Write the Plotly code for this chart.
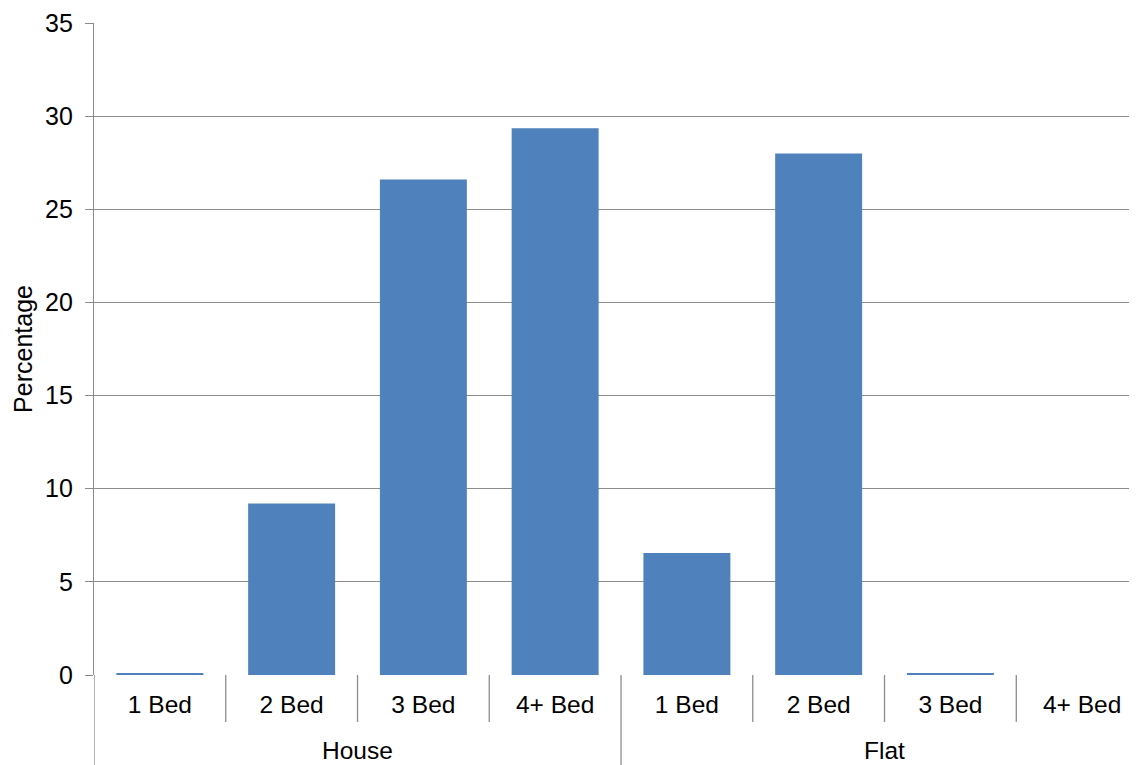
import plotly.graph_objects as go

groups = ["House", "House", "House", "House", "Flat", "Flat", "Flat", "Flat"]
beds = ["1 Bed", "2 Bed", "3 Bed", "4+ Bed", "1 Bed", "2 Bed", "3 Bed", "4+ Bed"]
percentages = [0.1, 9.2, 26.6, 29.35, 6.55, 28.0, 0.1, 0.0]
y_ticks = [0, 5, 10, 15, 20, 25, 30, 35]

FONT = "Liberation Sans, Arial, sans-serif"
GRID = "#8c8c8c"
M_T, M_B, M_L = 15, 98, 86
PLOT_H = 765 - M_T - M_B

positions = list(range(len(beds)))

fig = go.Figure()
fig.add_trace(go.Bar(
    x=positions,
    y=percentages,
    marker=dict(color="#4F81BD", line=dict(width=0)),
    width=0.66,
    hovertext=[f"{g} {b}" for g, b in zip(groups, beds)],
))

# category boundary ticks (short) and group dividers (long)
group_names = []
for g in groups:
    if g not in group_names:
        group_names.append(g)
group_starts = [groups.index(g) for g in group_names]

for i in range(len(beds) + 1):
    bx = i - 0.5
    long = i in group_starts or i == len(beds)
    fig.add_shape(
        type="line", xref="x", yref="paper",
        x0=bx, x1=bx, y0=0, y1=-(92 if long else 47) / PLOT_H,
        line=dict(color=GRID, width=1.3), layer="above",
    )

for g in group_names:
    idx = [i for i, gg in enumerate(groups) if gg == g]
    fig.add_annotation(
        x=sum(idx) / len(idx), xref="x", y=0, yref="paper",
        yanchor="middle", yshift=-75, text=g, showarrow=False,
        font=dict(family=FONT, size=24.5, color="#000000"),
    )

fig.update_layout(
    width=1137, height=765,
    margin=dict(l=M_L, r=0, t=M_T, b=M_B),
    paper_bgcolor="white", plot_bgcolor="white",
    showlegend=False,
    font=dict(family=FONT, size=24, color="#000000"),
)
fig.update_xaxes(
    range=[-0.5, 7.477],
    automargin=False,
    showline=False,
    showgrid=False,
    zeroline=False,
    tickmode="array", tickvals=positions, ticktext=beds,
    ticks="outside", ticklen=8, tickcolor="rgba(0,0,0,0)",
    tickfont=dict(family=FONT, size=24.5, color="#000000"),
)
fig.update_yaxes(
    range=[0, 35],
    automargin=False,
    tickvals=y_ticks,
    showline=True, linecolor=GRID, linewidth=1.3,
    showgrid=True, gridcolor=GRID, gridwidth=1.3,
    zeroline=False,
    ticks="outside", ticklen=8, tickcolor=GRID, tickwidth=1.3,
    ticklabelstandoff=7,
    tickfont=dict(family=FONT, size=25, color="#000000"),
    title=dict(text="Percentage", font=dict(family=FONT, size=25, color="#000000"), standoff=5),
)

fig.write_html("out.html")
